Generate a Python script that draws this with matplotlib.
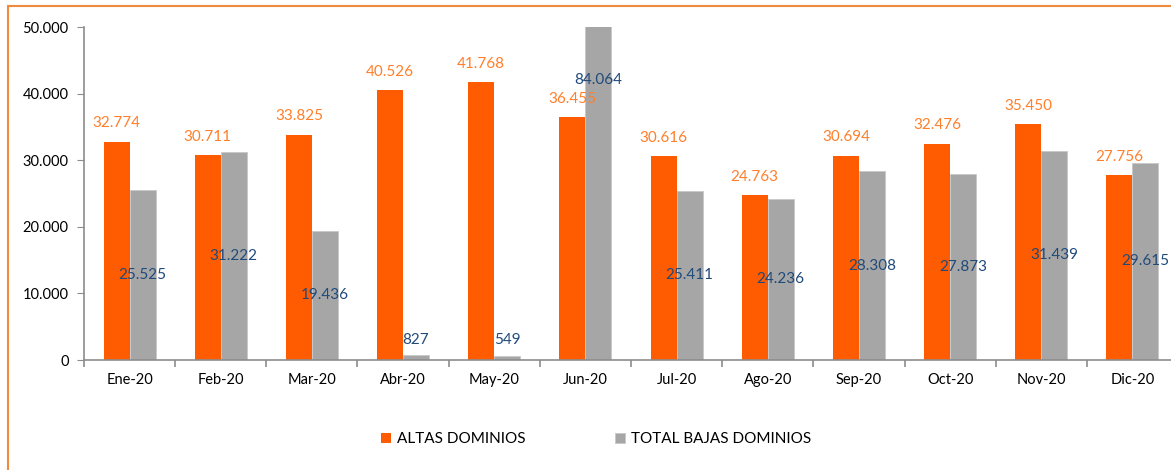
"""Altas y bajas de dominios por mes (2020)."""

import numpy as np
import matplotlib
matplotlib.use('Agg')
import matplotlib.pyplot as plt
from matplotlib.patches import Rectangle
from matplotlib.ticker import FuncFormatter, FixedLocator

plt.rcParams['font.family'] = ['Lato', 'DejaVu Sans']

# Datos
meses = ['Ene-20', 'Feb-20', 'Mar-20', 'Abr-20', 'May-20', 'Jun-20',
         'Jul-20', 'Ago-20', 'Sep-20', 'Oct-20', 'Nov-20', 'Dic-20']
altas = [32774, 30711, 33825, 40526, 41768, 36455,
         30616, 24763, 30694, 32476, 35450, 27756]
bajas = [25525, 31222, 19436, 827, 549, 84064,
         25411, 24236, 28308, 27873, 31439, 29615]
series = ['ALTAS DOMINIOS', 'TOTAL BAJAS DOMINIOS']

c_altas = '#FF5B00'
c_bajas = '#A6A6A6'
c_lbl_altas = '#FF7F2A'
c_lbl_bajas = '#1F4A7A'
c_axis = '#8C8C8C'


def miles(v, pos=None):
    return f"{int(v):,}".replace(',', '.')


fig = plt.figure(figsize=(11.71, 4.70), dpi=100)

# Marco naranja del gráfico
fig.patches.append(Rectangle((0.0068, -0.05), 1.2, 1.037, transform=fig.transFigure,
                             fill=False, edgecolor='#F08A3C', linewidth=1.5))

ax = fig.add_axes([0.0717, 0.234, 0.9343, 0.7085])

x = np.arange(len(meses))
w = 0.285
ax.bar(x - w / 2, altas, w, color=c_altas, label=series[0], zorder=2)
ax.bar(x + w / 2, bajas, w, color=c_bajas, edgecolor='#C8C8C8', linewidth=0.6,
       label=series[1], zorder=2)

ax.set_xlim(-0.5, len(meses) - 0.5)
ax.set_ylim(0, 50000)

# Etiquetas de valores
for i, (a, b) in enumerate(zip(altas, bajas)):
    ax.text(x[i] - w / 2, a + 2750, miles(a), ha='center', va='center',
            fontsize=11, color=c_lbl_altas, zorder=3)
    ax.text(x[i] + w / 2, max(b / 2, 3000), miles(b), ha='center', va='center',
            fontsize=11, color=c_lbl_bajas, zorder=3)

# Ejes
for s in ['top', 'right']:
    ax.spines[s].set_visible(False)
for s in ['left', 'bottom']:
    ax.spines[s].set_color(c_axis)
    ax.spines[s].set_linewidth(1.2)

ax.set_yticks(np.arange(0, 50001, 10000))
ax.yaxis.set_major_formatter(FuncFormatter(miles))
ax.tick_params(axis='y', length=5, color=c_axis, labelsize=10.5, pad=6)

ax.set_xticks(x)
ax.set_xticklabels(meses)
ax.tick_params(axis='x', which='major', length=0, labelsize=10.5, pad=9)
ax.xaxis.set_minor_locator(FixedLocator(np.arange(-0.5, len(meses), 1.0)))
ax.tick_params(axis='x', which='minor', length=5, color=c_axis, width=1.2)

ax.legend(loc='center', bbox_to_anchor=(0.509, 0.066), bbox_transform=fig.transFigure,
          ncol=2, frameon=False, fontsize=11, handlelength=0.65, handleheight=0.65,
          handletextpad=0.35, columnspacing=5.9)

plt.savefig('out.png', dpi=100)
plt.close()
